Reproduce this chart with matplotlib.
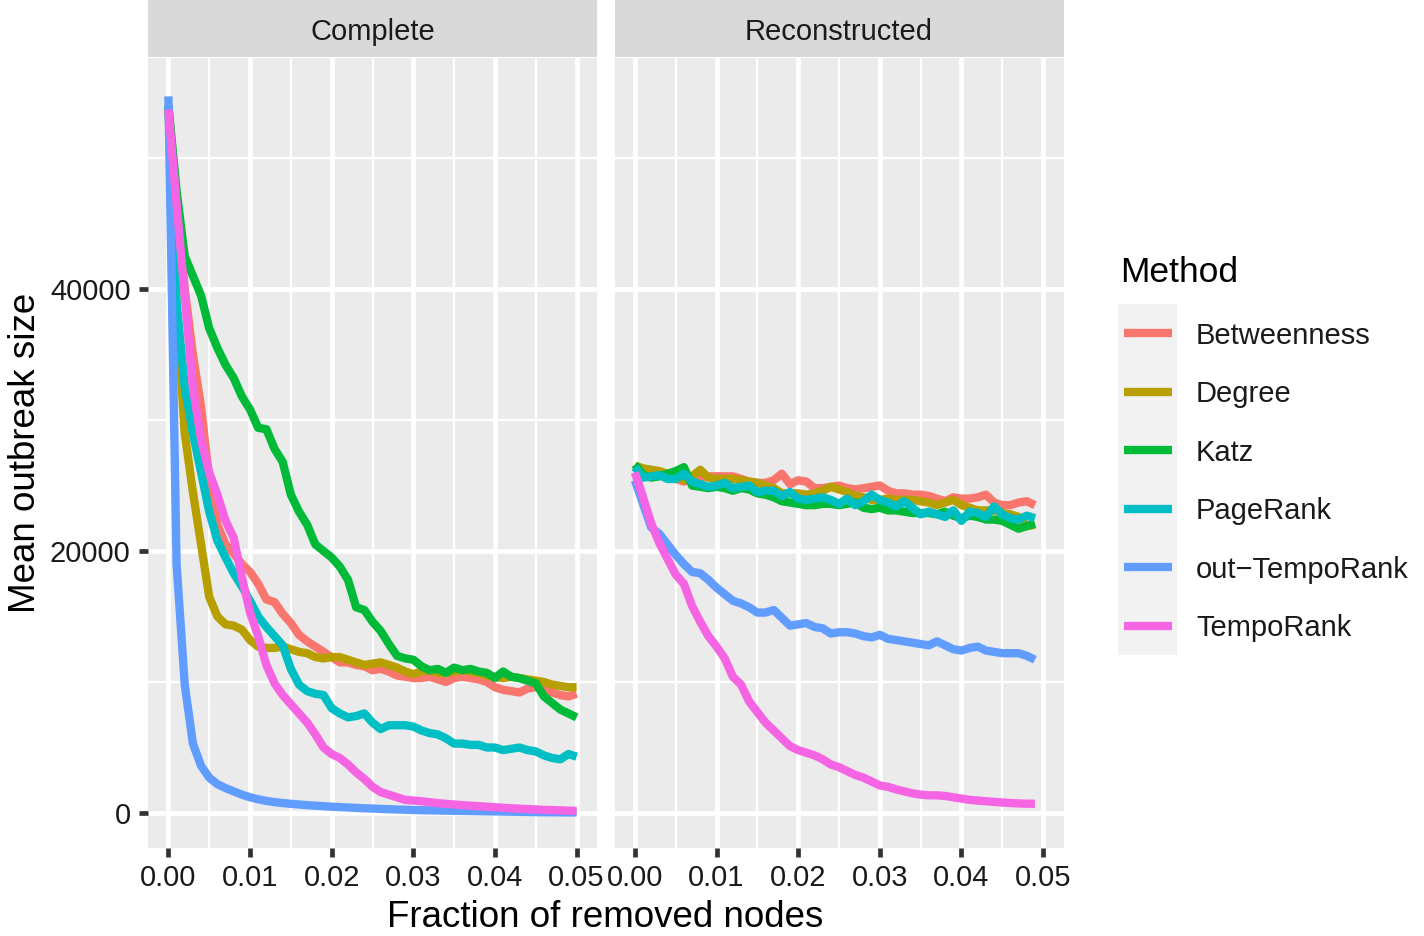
import matplotlib
matplotlib.use('Agg')
import matplotlib.pyplot as plt
import numpy as np

plt.rcParams['font.family'] = ['Liberation Sans', 'DejaVu Sans']

methods = ["Betweenness", "Degree", "Katz", "PageRank", "out\u2212TempoRank", "TempoRank"]
colors = ["#F8766D", "#B79F00", "#00BA38", "#00BFC4", "#619CFF", "#F564E3"]
panels = ["Complete", "Reconstructed"]

# fraction of removed nodes (steps of 0.001)
frac_complete = np.round(np.arange(51) * 0.001, 3)
frac_recon = np.round(np.arange(50) * 0.001, 3)

# mean outbreak size, complete network
betw_c = [54000, 47000, 40000, 35000, 31000, 25500, 22000, 20500, 19800, 19000,
          18400, 17500, 16300, 16100, 15200, 14500, 13600, 13100, 12700, 12300,
          11900, 11500, 11500, 11300, 11200, 10900, 11000, 10800, 10500, 10400,
          10300, 10300, 10400, 10200, 10000, 10300, 10400, 10300, 10200, 10000,
          9600, 9400, 9300, 9200, 9500, 9600, 9400, 9200, 9000, 8900, 9100]
degree_c = [54000, 38500, 29000, 24500, 20500, 16500, 15000, 14400, 14300, 14000,
            13200, 12700, 12600, 12600, 12700, 12500, 12300, 12200, 11900, 11800,
            11900, 11900, 11700, 11500, 11300, 11400, 11500, 11300, 11100, 10800,
            10600, 10800, 10900, 10700, 10700, 10800, 10900, 10800, 10700, 10500,
            10400, 10300, 10400, 10300, 10200, 10100, 10000, 9800, 9700, 9600, 9600]
katz_c = [54000, 47500, 42500, 41000, 39500, 37000, 35500, 34200, 33200, 31800,
          30800, 29400, 29300, 27800, 26800, 24300, 23000, 22000, 20500, 20000,
          19500, 18800, 17800, 15700, 15500, 14600, 13900, 12900, 12000, 11800,
          11700, 11200, 10900, 11000, 10700, 11100, 10900, 11000, 10800, 10700,
          10300, 10800, 10400, 10300, 10100, 9900, 8900, 8400, 7900, 7600, 7300]
pagerank_c = [54000, 39000, 32500, 29000, 26000, 23000, 20800, 19500, 18300, 17300,
              16200, 15000, 14200, 13500, 12800, 11000, 9800, 9300, 9100, 9000,
              8000, 7600, 7300, 7400, 7600, 6900, 6400, 6700, 6700, 6700,
              6600, 6300, 6100, 6000, 5700, 5300, 5300, 5200, 5200, 5000,
              5000, 4800, 4900, 5000, 4800, 4700, 4400, 4200, 4100, 4500, 4300]
outtempo_c = [54700, 19000, 9800, 5300, 3600, 2700, 2200, 1900, 1650, 1400,
              1200, 1050, 920, 830, 760, 700, 650, 600, 560, 520,
              480, 450, 420, 390, 360, 340, 310, 290, 270, 250,
              230, 210, 200, 190, 180, 170, 160, 150, 140, 130,
              120, 110, 100, 90, 80, 70, 60, 55, 50, 45, 40]
tempo_c = [53700, 46500, 39500, 32500, 28500, 26000, 24300, 22300, 21000, 18000,
           15300, 13500, 11300, 9900, 9000, 8300, 7600, 6900, 6000, 5000,
           4500, 4200, 3700, 3100, 2600, 2000, 1600, 1400, 1200, 1000,
           950, 900, 820, 750, 700, 650, 600, 560, 520, 480,
           440, 400, 360, 330, 300, 270, 240, 220, 200, 180, 160]

# mean outbreak size, reconstructed network
betw_r = [26500, 26300, 26100, 25900, 25700, 25500, 25300, 25500, 25600, 25700,
          25700, 25700, 25700, 25500, 25300, 25200, 25200, 25400, 25900, 25100,
          25400, 25300, 24800, 24800, 24900, 25000, 24800, 24700, 24800, 24900,
          25000, 24600, 24400, 24400, 24300, 24300, 24200, 24000, 23800, 24100,
          24000, 24000, 24100, 24300, 23700, 23500, 23500, 23700, 23800, 23500]
degree_r = [26500, 26300, 26200, 26100, 25900, 25700, 25400, 25700, 26200, 25600,
            25500, 25500, 25500, 25400, 25300, 25200, 25000, 24800, 24400, 24400,
            24400, 24300, 24400, 24600, 24900, 24700, 24500, 24200, 24100, 23900,
            23900, 24000, 23900, 23900, 23900, 23800, 23700, 23500, 23700, 23900,
            23500, 23300, 23100, 23100, 23100, 22900, 22800, 22600, 21900, 22000]
katz_r = [26600, 25800, 25600, 25700, 25900, 26100, 26400, 25000, 24900, 24800,
          24900, 24800, 24600, 24800, 24700, 24400, 24300, 24100, 23800, 23700,
          23600, 23500, 23500, 23600, 23600, 23500, 23600, 23700, 23300, 23200,
          23300, 23100, 23100, 23000, 22900, 22900, 22900, 22800, 23000, 22700,
          22500, 22700, 22600, 22400, 22400, 22300, 22000, 21700, 21900, 22100]
pagerank_r = [26400, 25600, 25700, 25800, 25500, 25500, 25900, 25300, 25100, 24900,
              25000, 25200, 24800, 24900, 25000, 24500, 24600, 24600, 24200, 24500,
              24000, 23900, 24000, 24100, 23900, 23600, 24000, 23500, 23800, 24300,
              23900, 23700, 23400, 23800, 23300, 22800, 23000, 22800, 22600, 23100,
              22300, 23000, 22900, 22600, 23400, 22800, 22500, 22400, 22700, 22500]
outtempo_r = [25400, 23600, 21800, 21300, 20500, 19700, 19000, 18400, 18300, 17800,
              17200, 16700, 16200, 16000, 15700, 15300, 15300, 15500, 14900, 14300,
              14400, 14500, 14200, 14100, 13700, 13800, 13800, 13700, 13500, 13400,
              13600, 13300, 13200, 13100, 13000, 12900, 12800, 13100, 12800, 12500,
              12400, 12600, 12700, 12400, 12300, 12200, 12200, 12200, 12000, 11700]
tempo_r = [26000, 24100, 22100, 20600, 19400, 18200, 17500, 15800, 14600, 13500,
           12700, 11800, 10400, 9800, 8500, 7700, 6900, 6300, 5700, 5100,
           4800, 4600, 4400, 4100, 3700, 3500, 3200, 2900, 2700, 2400,
           2100, 2000, 1800, 1650, 1500, 1400, 1350, 1350, 1300, 1200,
           1100, 1000, 950, 900, 850, 800, 760, 730, 710, 700]

series = {
    "Complete": (frac_complete, [betw_c, degree_c, katz_c, pagerank_c, outtempo_c, tempo_c]),
    "Reconstructed": (frac_recon, [betw_r, degree_r, katz_r, pagerank_r, outtempo_r, tempo_r]),
}

W, H = 1424, 936
fig = plt.figure(figsize=(W / 100, H / 100), dpi=100)


def px_axes(x0, y0, x1, y1):
    return fig.add_axes([x0 / W, 1 - y1 / H, (x1 - x0) / W, (y1 - y0) / H])


panel_x = [(148, 597), (614.5, 1063.5)]
for k, name in enumerate(panels):
    x0, x1 = panel_x[k]
    ax = px_axes(x0, 58, x1, 848)
    ax.set_facecolor("#EBEBEB")
    for s in ax.spines.values():
        s.set_visible(False)
    ax.set_xlim(-0.0025, 0.0525)
    ax.set_ylim(-2672, 57634)
    ax.set_xticks([0, 0.01, 0.02, 0.03, 0.04, 0.05])
    ax.set_xticklabels(["0.00", "0.01", "0.02", "0.03", "0.04", "0.05"])
    ax.set_xticks([0.005, 0.015, 0.025, 0.035, 0.045], minor=True)
    ax.set_yticks([0, 20000, 40000])
    ax.set_yticks([10000, 30000, 50000], minor=True)
    ax.grid(which="major", color="white", linewidth=3.4)
    ax.grid(which="minor", color="white", linewidth=1.7)
    ax.set_axisbelow(True)
    ax.tick_params(which="major", length=6.5, width=3.4, color="#333333",
                   labelsize=21, labelcolor="#1A1A1A", pad=5)
    ax.tick_params(axis="y", pad=6)
    ax.tick_params(which="minor", length=0)
    if k == 0:
        ax.set_yticklabels(["0", "20000", "40000"])
    else:
        ax.tick_params(axis="y", which="both", left=False, labelleft=False)

    xs, ys = series[name]
    for m, vals, c in zip(methods, ys, colors):
        ax.plot(xs, vals, color=c, linewidth=6.0, solid_joinstyle="round",
                solid_capstyle="butt", label=m)

    sax = px_axes(x0, 0, x1, 57)
    sax.set_facecolor("#D9D9D9")
    sax.set_xticks([])
    sax.set_yticks([])
    for s in sax.spines.values():
        s.set_visible(False)
    fig.text((x0 + x1) / 2 / W, 1 - 40 / H, name, ha="center", va="baseline",
             fontsize=21, color="#1A1A1A")

# axis titles
fig.text(605.5 / W, 1 - 927 / H, "Fraction of removed nodes", ha="center",
         va="baseline", fontsize=26.5)
fig.text(26 / W, 1 - 453 / H, "Mean outbreak size", ha="center", va="center",
         rotation=90, fontsize=26.5)

# legend
fig.text(1120 / W, 1 - 282 / H, "Method", ha="left", va="baseline", fontsize=25.5)
lax = px_axes(1118, 304, 1177, 655)
lax.set_facecolor("#F2F2F2")
lax.set_xlim(0, 1)
lax.set_ylim(len(methods), 0)
lax.set_xticks([])
lax.set_yticks([])
for s in lax.spines.values():
    s.set_visible(False)
row_h = (655 - 304) / len(methods)
for i, (m, c) in enumerate(zip(methods, colors)):
    lax.plot([0.1, 0.915], [i + 0.5, i + 0.5], color=c, linewidth=6.0,
             solid_capstyle="butt")
    yc = 304 + row_h * (i + 0.5)
    fig.text(1196 / W, 1 - (yc + 10.5) / H, m, ha="left", va="baseline",
             fontsize=21, color="#1A1A1A")

plt.savefig("out.png", dpi=100)
